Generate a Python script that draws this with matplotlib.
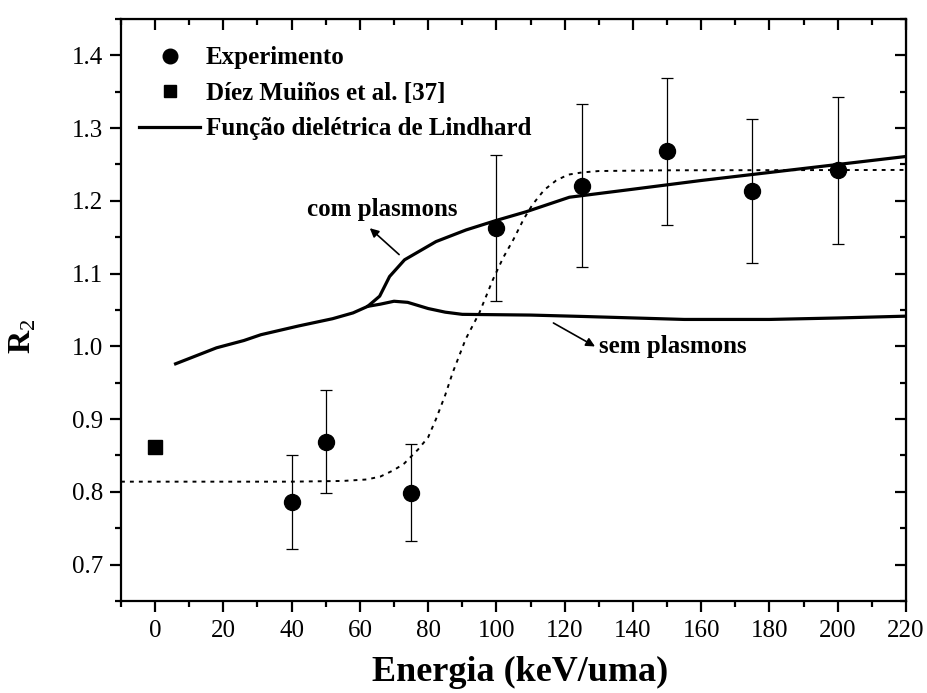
import matplotlib
matplotlib.use("Agg")
import matplotlib.pyplot as plt
from matplotlib.ticker import MultipleLocator, FormatStrFormatter
from matplotlib.lines import Line2D

plt.rcParams['font.family'] = ['Liberation Serif', 'DejaVu Serif']
plt.rcParams['mathtext.fontset'] = 'custom'
plt.rcParams['mathtext.rm'] = 'Liberation Serif'
plt.rcParams['mathtext.bf'] = 'Liberation Serif:bold'

# ---- data ----
exp_energy = [40, 50, 75, 100, 125, 150, 175, 200]
exp_r2 = [0.786, 0.869, 0.799, 1.163, 1.221, 1.268, 1.214, 1.242]
exp_err = [0.064, 0.071, 0.067, 0.100, 0.112, 0.101, 0.099, 0.101]

diez_energy = [0]
diez_r2 = [0.862]

# Lindhard with plasmons (common part + upper branch)
com_energy = [6, 12, 18, 26, 31, 42, 52, 58, 62.3, 65.8, 68.7, 73.1, 82.3, 91.1,
              99.9, 108.7, 121.4, 140, 160, 180, 200, 220]
com_r2 = [0.976, 0.987, 0.998, 1.008, 1.016, 1.028, 1.038, 1.046, 1.055, 1.069,
          1.096, 1.119, 1.144, 1.160, 1.173, 1.185, 1.205, 1.216, 1.228, 1.239,
          1.250, 1.261]

# Lindhard without plasmons (branch from the fork)
sem_energy = [62.3, 66, 70, 74, 80, 85, 90, 110, 126, 155, 180, 200, 220]
sem_r2 = [1.055, 1.058, 1.062, 1.0605, 1.052, 1.047, 1.044, 1.043, 1.041,
          1.037, 1.037, 1.039, 1.0415]

# dotted guide curve
dot_energy = [-10, 40, 55, 62, 66, 70, 73, 77, 80, 82.3, 85, 87.2, 91, 95, 99,
              102, 105, 108, 110.6, 114, 117.5, 121, 125, 130, 150, 220]
dot_r2 = [0.814, 0.814, 0.815, 0.817, 0.821, 0.830, 0.839, 0.858, 0.875, 0.900,
          0.933, 0.964, 1.010, 1.046, 1.092, 1.122, 1.147, 1.175, 1.195, 1.215,
          1.228, 1.236, 1.239, 1.241, 1.242, 1.2425]

xticks = list(range(0, 221, 20))
yticks = [0.7, 0.8, 0.9, 1.0, 1.1, 1.2, 1.3, 1.4]

fig = plt.figure(figsize=(9.27, 6.93), dpi=100)
ax = fig.add_axes([0.1305, 0.1328, 0.8468, 0.8398])

ax.plot(dot_energy, dot_r2, color='k', lw=1.4, linestyle=(0, (2, 2.6)))
ax.plot(com_energy, com_r2, color='k', lw=2.3, solid_joinstyle='round')
ax.plot(sem_energy, sem_r2, color='k', lw=2.3, solid_joinstyle='round')
ax.errorbar(exp_energy, exp_r2, yerr=exp_err, fmt='none', ecolor='k',
            elinewidth=0.9, capsize=4, capthick=0.9)
ax.plot(exp_energy, exp_r2, 'o', color='k', ms=11.5)
ax.plot(diez_energy, diez_r2, 's', color='k', ms=10)

ax.set_xlim(-10, 220)
ax.set_ylim(0.65, 1.45)
ax.set_xticks(xticks)
ax.set_yticks(yticks)
ax.xaxis.set_minor_locator(MultipleLocator(10))
ax.yaxis.set_minor_locator(MultipleLocator(0.05))
ax.yaxis.set_major_formatter(FormatStrFormatter('%.1f'))
ax.tick_params(which='both', direction='out', width=1.6, labelsize=18)
ax.tick_params(which='major', length=8)
ax.tick_params(which='minor', length=4.5)
ax.tick_params(axis='x', pad=6)
ax.tick_params(axis='y', pad=5)
for s in ax.spines.values():
    s.set_linewidth(1.6)

sx = ax.secondary_xaxis('top')
sx.set_xticks(xticks)
sx.xaxis.set_minor_locator(MultipleLocator(10))
sx.tick_params(which='both', direction='in', width=1.6, labeltop=False)
sx.tick_params(which='major', length=8)
sx.tick_params(which='minor', length=4.5)
sy = ax.secondary_yaxis('right')
sy.set_yticks(yticks)
sy.yaxis.set_minor_locator(MultipleLocator(0.05))
sy.tick_params(which='both', direction='in', width=1.6, labelright=False)
sy.tick_params(which='major', length=8)
sy.tick_params(which='minor', length=4.5)

# annotations
ax.annotate('', xy=(62.3, 1.165), xytext=(72.1, 1.1236),
            arrowprops=dict(arrowstyle='-|>', color='k', lw=1.2, mutation_scale=13))
ax.text(66.5, 1.188, 'com plasmons', fontsize=18, fontweight='bold',
        ha='center', va='center')
ax.annotate('', xy=(129.6, 0.998), xytext=(116, 1.034),
            arrowprops=dict(arrowstyle='-|>', color='k', lw=1.2, mutation_scale=13))
ax.text(130.1, 1.0, 'sem plasmons', fontsize=18, fontweight='bold',
        ha='left', va='center')

handles = [Line2D([], [], marker='o', color='k', ls='none', ms=10.5),
           Line2D([], [], marker='s', color='k', ls='none', ms=8),
           Line2D([], [], color='k', lw=2.3)]
labels = ['Experimento', 'Díez Muiños et al. [37]', 'Função dielétrica de Lindhard']
ax.legend(handles, labels, loc='upper left', bbox_to_anchor=(0.023, 0.953),
          frameon=False, borderpad=0, borderaxespad=0, handlelength=2.44,
          handletextpad=0.24, labelspacing=0.5,
          prop={'size': 18, 'weight': 'bold'})

fig.text(520 / 927, 1 - 672 / 693, 'Energia (keV/uma)', fontsize=26,
         fontweight='bold', ha='center', va='center')
fig.text(23 / 927, 1 - 336 / 693, r'$\mathbf{R}_{\mathrm{2}}$', fontsize=23,
         rotation=90, ha='center', va='center')

fig.savefig('out.png', dpi=100)
